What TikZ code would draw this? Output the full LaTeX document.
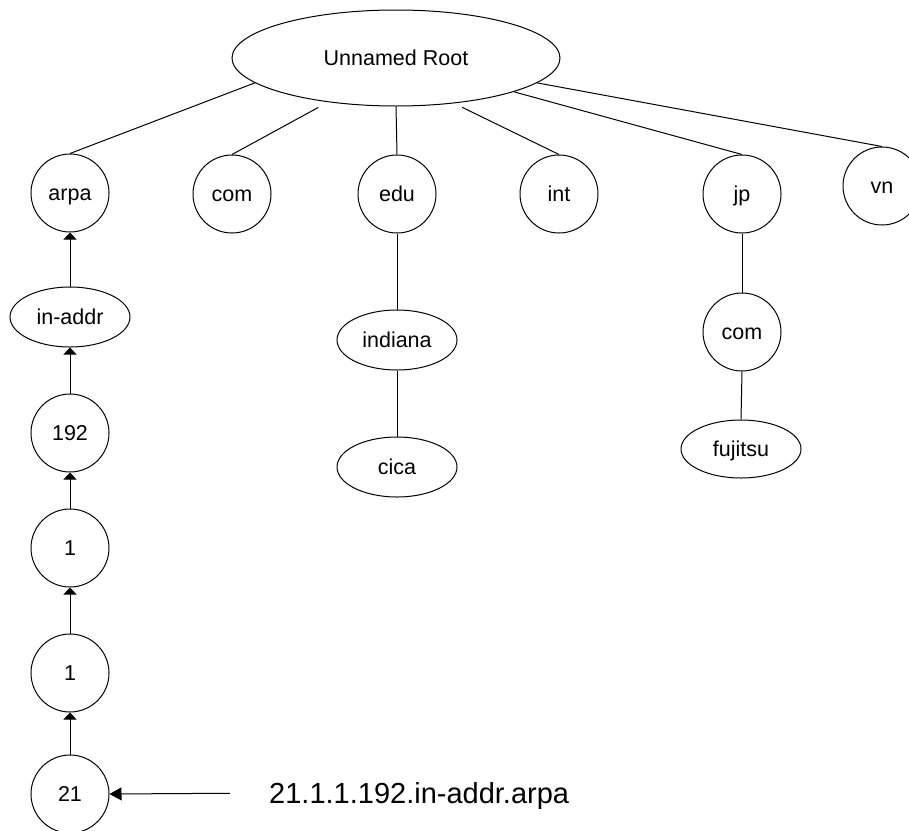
\documentclass[tikz,border=0pt]{standalone}
\usepackage{fontspec}
\setmainfont{Liberation Sans}
\usetikzlibrary{shapes.geometric,arrows.meta}
\tikzset{
  every node/.style={font=\fontsize{21.5}{26}\selectfont, inner sep=0pt, text height=15.4pt, text depth=0pt},
  circ/.style={draw, circle, minimum size=78pt, line width=1pt},
  oval/.style={draw, ellipse, minimum width=120pt, minimum height=60pt, line width=1pt},
  link/.style={draw, line width=1pt},
  up/.style={draw, line width=1pt, -{Triangle[length=7pt,width=13pt]}},
  pointer/.style={draw, line width=1pt, -{Triangle[length=12pt,width=13pt]}},
}
\begin{document}
\begin{tikzpicture}[x=1pt,y=-1pt]
\useasboundingbox (0,0) rectangle (909,830);
% root
\node[draw, ellipse, minimum width=328pt, minimum height=96pt, line width=1pt] (root) at (396,58) {Unnamed Root};
% top-level domains
\node[circ] (arpa) at (70,193) {arpa};
\node[circ] (com) at (232,194) {com};
\node[circ] (edu) at (397,194) {edu};
\node[circ] (int) at (559,194) {int};
\node[circ] (jp) at (742,194) {jp};
\node[circ] (vn) at (882,186) {vn};
% reverse chain
\node[oval] (inaddr) at (70,317) {in-addr};
\node[circ] (n192) at (70,433) {192};
\node[circ] (n1a) at (70,548) {1};
\node[circ] (n1b) at (70,673) {1};
\node[circ] (n21) at (70,794) {21};
% edu subtree
\node[oval] (indiana) at (397,340) {indiana};
\node[oval] (cica) at (397,467) {cica};
% jp subtree
\node[circ] (jpcom) at (742,332) {com};
\node[oval, minimum height=58pt] (fujitsu) at (741,449) {fujitsu};
% label
\node[anchor=west, font=\fontsize{29}{34}\selectfont, text height=20.8pt] (lbl) at (269,793) {21.1.1.192.in-addr.arpa};
% root links
\path[link] (root.190) -- (arpa.north);
\path[link, shorten <=11pt] (root.213.4) -- (com.north);
\path[link] (root.270) -- (edu.north);
\path[link, shorten <=9pt] (root.322.6) -- (int.north);
\path[link] (root.344.7) -- (jp.north);
\path[link] (root.350) -- (vn.north);
% subtree links
\path[link] (edu.south) -- (indiana.north);
\path[link] (indiana.south) -- (cica.north);
\path[link] (jp.south) -- (jpcom.north);
\path[link] (jpcom.south) -- (fujitsu.north);
% arrows
\path[up] (inaddr.north) -- (arpa.south);
\path[up] (n192.north) -- (inaddr.south);
\path[up] (n1a.north) -- (n192.south);
\path[up] (n1b.north) -- (n1a.south);
\path[up] (n21.north) -- (n1b.south);
\path[pointer, shorten <=39pt] (lbl.west) -- (n21.east);
\end{tikzpicture}
\end{document}
